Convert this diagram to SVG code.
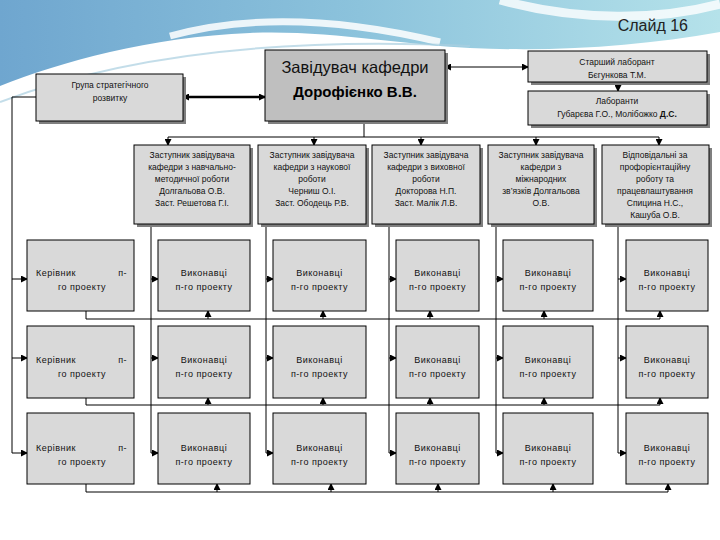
<svg xmlns="http://www.w3.org/2000/svg" width="720" height="540" viewBox="0 0 720 540">
<defs>
<linearGradient id="sky" x1="0" y1="0" x2="1" y2="0">
<stop offset="0" stop-color="#6fa6cf"/>
<stop offset="0.5" stop-color="#8cc3dc"/>
<stop offset="1" stop-color="#b5e2ea"/>
</linearGradient>
<marker id="ah" markerUnits="userSpaceOnUse" markerWidth="7" markerHeight="7" refX="6" refY="3.5" orient="auto-start-reverse">
<path d="M0,0 L7,3.5 L0,7 Z" fill="#000"/>
</marker>
<style>
.box{fill:#d9d9d9;stroke:#000;stroke-width:1}
.main{fill:#bfbfbf;stroke:#000;stroke-width:1}
.sh{fill:#7f7f7f}
.t{font-family:"Liberation Sans","DejaVu Sans",sans-serif;font-size:9px;fill:#111;text-anchor:middle;letter-spacing:0.5px}
.ts{font-family:"Liberation Sans","DejaVu Sans",sans-serif;font-size:8.5px;fill:#111;text-anchor:middle}
.ln{stroke:#000;stroke-width:1;fill:none}
.ar{stroke:#000;stroke-width:1;fill:none;marker-end:url(#ah)}
</style>
</defs>
<rect width="720" height="540" fill="#ffffff"/>
<g id="background">
<path d="M0,0 H720 V32 C640,46 560,52 470,48 C400,45 330,30 250,33 C150,37 60,62 0,86 Z" fill="url(#sky)"/>
<path d="M170,36 C250,14 340,18 440,42" stroke="#ffffff" stroke-width="7" fill="none" opacity="0.85"/>
<path d="M0,102 C110,60 260,36 470,46" stroke="#a9cfe0" stroke-width="2" fill="none" opacity="0.7"/>
<path d="M500,0 C580,22 660,20 720,4" stroke="#ffffff" stroke-width="9" fill="none" opacity="0.8"/>
<path d="M0,92 C80,62 140,48 230,40" stroke="#ffffff" stroke-width="3" fill="none" opacity="0.6"/>
<text x="688" y="31" font-family="Liberation Sans, DejaVu Sans, sans-serif" font-size="16" fill="#222" text-anchor="end">Слайд 16</text>
</g>
<g id="connectors">
<path d="M183,97 H265" stroke="#000" stroke-width="2.5" fill="none" marker-start="url(#ah)" marker-end="url(#ah)"/>
<path d="M445,67 H528" class="ln" marker-start="url(#ah)" marker-end="url(#ah)"/>
<path d="M618,82 V91" class="ar"/>
<path d="M364,121 V137" class="ln"/>
<path d="M168,137 H659" class="ln"/>
<path d="M168,137 V145" class="ar"/>
<path d="M314,137 V145" class="ar"/>
<path d="M421,137 V145" class="ar"/>
<path d="M536,137 V145" class="ar"/>
<path d="M659,137 V145" class="ar"/>
<path d="M36,97 H12 V453 H27" class="ar"/>
<path d="M12,279 H27" class="ar"/>
<path d="M12,358 H27" class="ar"/>
<path d="M151,224 V453 H158" class="ar"/>
<path d="M151,279 H158" class="ar"/>
<path d="M151,358 H158" class="ar"/>
<path d="M266,224 V453 H273" class="ar"/>
<path d="M266,279 H273" class="ar"/>
<path d="M266,358 H273" class="ar"/>
<path d="M389,224 V453 H396" class="ar"/>
<path d="M389,279 H396" class="ar"/>
<path d="M389,358 H396" class="ar"/>
<path d="M496,224 V453 H503" class="ar"/>
<path d="M496,279 H503" class="ar"/>
<path d="M496,358 H503" class="ar"/>
<path d="M618,224 V453 H626" class="ar"/>
<path d="M618,279 H626" class="ar"/>
<path d="M618,358 H626" class="ar"/>
<path d="M86,311 V319 H660" class="ln"/>
<path d="M208,319 V311" class="ar"/>
<path d="M323,319 V311" class="ar"/>
<path d="M430,319 V311" class="ar"/>
<path d="M544,319 V311" class="ar"/>
<path d="M660,319 V311" class="ar"/>
<path d="M86,398 V405 H660" class="ln"/>
<path d="M208,405 V398" class="ar"/>
<path d="M323,405 V398" class="ar"/>
<path d="M430,405 V398" class="ar"/>
<path d="M544,405 V398" class="ar"/>
<path d="M660,405 V398" class="ar"/>
<path d="M86,484 V492 H668" class="ln"/>
<path d="M217,492 V484" class="ar"/>
<path d="M331,492 V484" class="ar"/>
<path d="M438,492 V484" class="ar"/>
<path d="M553,492 V484" class="ar"/>
<path d="M668,492 V484" class="ar"/>
</g>
<g id="group">
<rect class="sh" x="39" y="77" width="147" height="47"/>
<rect class="box" x="36" y="74" width="147" height="47"/>
<text class="ts" x="110" y="88">Група стратегічного</text>
<text class="ts" x="110" y="101">розвитку</text>
</g>
<g id="head">
<rect class="sh" x="268" y="53" width="180" height="71"/>
<rect class="main" x="265" y="50" width="180" height="71"/>
<text x="355" y="73" font-family="Liberation Sans, DejaVu Sans, sans-serif" font-size="16.5" fill="#111" text-anchor="middle">Завідувач кафедри</text>
<text x="355" y="97" font-family="Liberation Sans, DejaVu Sans, sans-serif" font-size="15" font-weight="bold" fill="#000" text-anchor="middle">Дорофієнко В.В.</text>
</g>
<g id="senior-lab">
<rect class="sh" x="531" y="54" width="179" height="31"/>
<rect class="box" x="528" y="51" width="179" height="31"/>
<text class="ts" x="617" y="65">Старший лаборант</text>
<text class="ts" x="617" y="78">Бєгункова Т.М.</text>
</g>
<g id="labs">
<rect class="sh" x="531" y="94" width="179" height="34"/>
<rect class="box" x="528" y="91" width="179" height="34"/>
<text class="ts" x="617" y="104">Лаборанти</text>
<text class="ts" x="617" y="117">Губарєва Г.О., Молібожко <tspan font-weight="bold">Д.С.</tspan></text>
</g>
<g id="deputy1">
<rect class="sh" x="137" y="148" width="116" height="79"/>
<rect class="box" x="134" y="145" width="116" height="79"/>
<text class="ts" x="192" y="158">Заступник завідувача</text>
<text class="ts" x="192" y="170">кафедри з навчально-</text>
<text class="ts" x="192" y="182">методичної роботи</text>
<text class="ts" x="192" y="194">Долгальова О.В.</text>
<text class="ts" x="192" y="206">Заст. Решетова Г.І.</text>
</g>
<g id="deputy2">
<rect class="sh" x="261" y="148" width="108" height="79"/>
<rect class="box" x="258" y="145" width="108" height="79"/>
<text class="ts" x="312" y="158">Заступник завідувача</text>
<text class="ts" x="312" y="170">кафедри з наукової</text>
<text class="ts" x="312" y="182">роботи</text>
<text class="ts" x="312" y="194">Черниш О.І.</text>
<text class="ts" x="312" y="206">Заст. Ободець Р.В.</text>
</g>
<g id="deputy3">
<rect class="sh" x="375" y="148" width="108" height="79"/>
<rect class="box" x="372" y="145" width="108" height="79"/>
<text class="ts" x="426" y="158">Заступник завідувача</text>
<text class="ts" x="426" y="170">кафедри з виховної</text>
<text class="ts" x="426" y="182">роботи</text>
<text class="ts" x="426" y="194">Докторова Н.П.</text>
<text class="ts" x="426" y="206">Заст. Малік Л.В.</text>
</g>
<g id="deputy4">
<rect class="sh" x="491" y="148" width="106" height="79"/>
<rect class="box" x="488" y="145" width="106" height="79"/>
<text class="ts" x="541" y="158">Заступник завідувача</text>
<text class="ts" x="541" y="170">кафедри з</text>
<text class="ts" x="541" y="182">міжнародних</text>
<text class="ts" x="541" y="194">зв’язків   Долгальова</text>
<text class="ts" x="541" y="206">О.В.</text>
</g>
<g id="deputy5">
<rect class="sh" x="605" y="148" width="107" height="79"/>
<rect class="box" x="602" y="145" width="107" height="79"/>
<text class="ts" x="655" y="158">Відповідальні за</text>
<text class="ts" x="655" y="170">профорієнтаційну</text>
<text class="ts" x="655" y="182">роботу та</text>
<text class="ts" x="655" y="194">працевлаштування</text>
<text class="ts" x="655" y="206">Спицина Н.С.,</text>
<text class="ts" x="655" y="218">Кашуба О.В.</text>
</g>
<g id="leader1">
<rect class="box" x="27" y="240" width="107" height="71"/>
<text class="t" x="36" y="276" style="text-anchor:start">Керівник</text>
<text class="t" x="127" y="276" style="text-anchor:end">п-</text>
<text class="t" x="82" y="290">го проекту</text>
</g>
<g id="leader2">
<rect class="box" x="27" y="326" width="107" height="72"/>
<text class="t" x="36" y="363" style="text-anchor:start">Керівник</text>
<text class="t" x="127" y="363" style="text-anchor:end">п-</text>
<text class="t" x="82" y="377">го проекту</text>
</g>
<g id="leader3">
<rect class="box" x="27" y="413" width="107" height="71"/>
<text class="t" x="36" y="451" style="text-anchor:start">Керівник</text>
<text class="t" x="127" y="451" style="text-anchor:end">п-</text>
<text class="t" x="82" y="465">го проекту</text>
</g>
<g id="exec-r1-c1"><rect class="box" x="158" y="240" width="92" height="71"/><text class="t" x="204" y="276">Виконавці</text><text class="t" x="204" y="290">п-го проекту</text></g>
<g id="exec-r1-c2"><rect class="box" x="273" y="240" width="93" height="71"/><text class="t" x="319.5" y="276">Виконавці</text><text class="t" x="319.5" y="290">п-го проекту</text></g>
<g id="exec-r1-c3"><rect class="box" x="396" y="240" width="83" height="71"/><text class="t" x="437.5" y="276">Виконавці</text><text class="t" x="437.5" y="290">п-го проекту</text></g>
<g id="exec-r1-c4"><rect class="box" x="503" y="240" width="90" height="71"/><text class="t" x="548" y="276">Виконавці</text><text class="t" x="548" y="290">п-го проекту</text></g>
<g id="exec-r1-c5"><rect class="box" x="626" y="240" width="82" height="71"/><text class="t" x="667" y="276">Виконавці</text><text class="t" x="667" y="290">п-го проекту</text></g>
<g id="exec-r2-c1"><rect class="box" x="158" y="326" width="92" height="72"/><text class="t" x="204" y="363">Виконавці</text><text class="t" x="204" y="377">п-го проекту</text></g>
<g id="exec-r2-c2"><rect class="box" x="273" y="326" width="93" height="72"/><text class="t" x="319.5" y="363">Виконавці</text><text class="t" x="319.5" y="377">п-го проекту</text></g>
<g id="exec-r2-c3"><rect class="box" x="396" y="326" width="83" height="72"/><text class="t" x="437.5" y="363">Виконавці</text><text class="t" x="437.5" y="377">п-го проекту</text></g>
<g id="exec-r2-c4"><rect class="box" x="503" y="326" width="90" height="72"/><text class="t" x="548" y="363">Виконавці</text><text class="t" x="548" y="377">п-го проекту</text></g>
<g id="exec-r2-c5"><rect class="box" x="626" y="326" width="82" height="72"/><text class="t" x="667" y="363">Виконавці</text><text class="t" x="667" y="377">п-го проекту</text></g>
<g id="exec-r3-c1"><rect class="box" x="158" y="413" width="92" height="71"/><text class="t" x="204" y="451">Виконавці</text><text class="t" x="204" y="465">п-го проекту</text></g>
<g id="exec-r3-c2"><rect class="box" x="273" y="413" width="93" height="71"/><text class="t" x="319.5" y="451">Виконавці</text><text class="t" x="319.5" y="465">п-го проекту</text></g>
<g id="exec-r3-c3"><rect class="box" x="396" y="413" width="83" height="71"/><text class="t" x="437.5" y="451">Виконавці</text><text class="t" x="437.5" y="465">п-го проекту</text></g>
<g id="exec-r3-c4"><rect class="box" x="503" y="413" width="90" height="71"/><text class="t" x="548" y="451">Виконавці</text><text class="t" x="548" y="465">п-го проекту</text></g>
<g id="exec-r3-c5"><rect class="box" x="626" y="413" width="82" height="71"/><text class="t" x="667" y="451">Виконавці</text><text class="t" x="667" y="465">п-го проекту</text></g>
</svg>
